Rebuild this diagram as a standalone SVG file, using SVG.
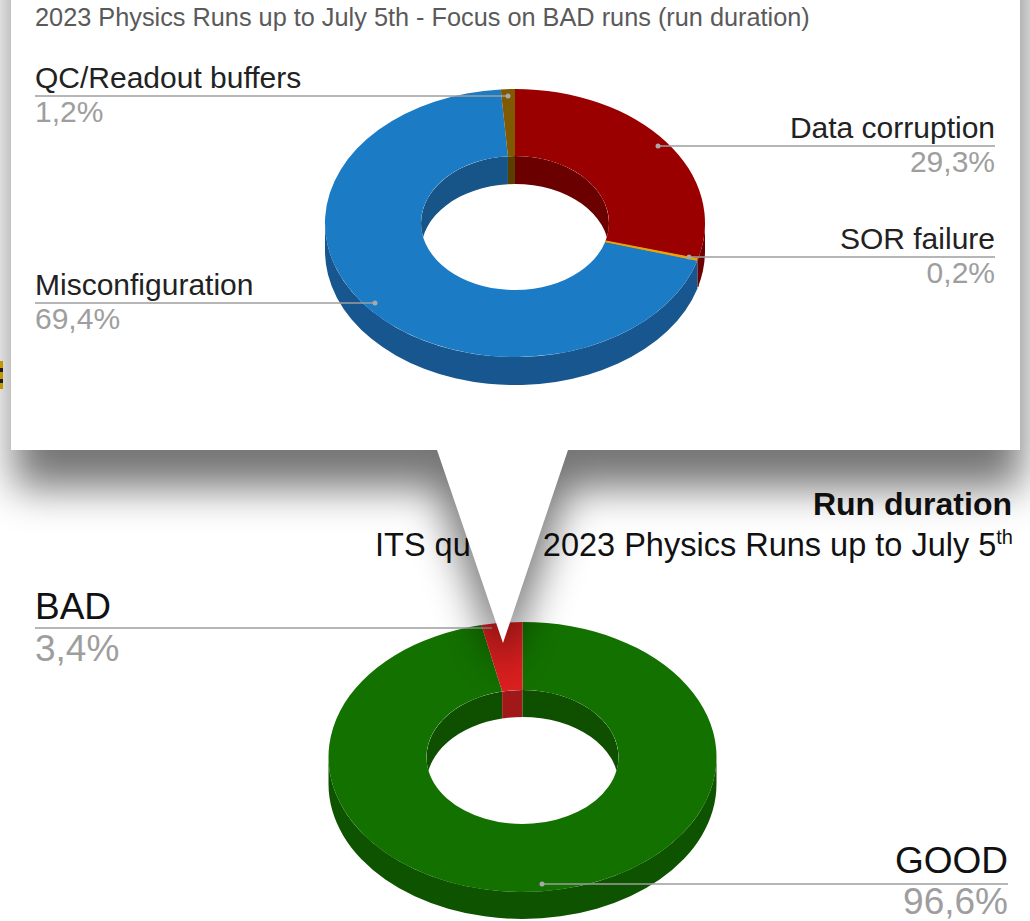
<svg xmlns="http://www.w3.org/2000/svg" width="1030" height="921" viewBox="0 0 1030 921">
<style>
text{font-family:"Liberation Sans",Arial,sans-serif}
.lbl{font-size:30px;fill:#222}
.pct{font-size:30px;fill:#9e9e9e}
.lblb{font-size:37px;fill:#111}
.pctb{font-size:37px;fill:#9e9e9e}
.lead{stroke:#9e9e9e;stroke-width:1.5;fill:none}
.dot{fill:#a8a8a8}
</style>
<defs>
<filter id="blur" filterUnits="userSpaceOnUse" x="-150" y="-150" width="1330" height="1250"><feGaussianBlur stdDeviation="20"/></filter>
<clipPath id="holeTop"><ellipse cx="515" cy="223" rx="94" ry="67"/></clipPath>
<clipPath id="holeBot"><ellipse cx="522.5" cy="757" rx="96" ry="67"/></clipPath>
</defs>
<rect x="0" y="0" width="1030" height="921" fill="#fff"/>

<g id="edge-fragment">
<rect x="0" y="361" width="3" height="28" fill="#e2b100"/>
<rect x="0" y="368" width="3" height="4" fill="#222"/>
<rect x="0" y="379" width="3" height="4" fill="#222"/>
</g>

<g id="bottom-chart-title">
<text x="1012" y="515" text-anchor="end" style="font-size:32px;font-weight:bold;fill:#111">Run duration</text>
<text x="375" y="556" style="font-size:32.5px;fill:#111">ITS qua</text>
<text x="1013" y="556" text-anchor="end" style="font-size:32.5px;fill:#111">2023 Physics Runs up to July 5<tspan dy="-12" style="font-size:20px">th</tspan></text>
</g>
<g id="good-slice">
<path d="M716.5,757 A194,135 0 0 1 328.5,757 L328.5,784 A194,135 0 0 0 716.5,784 Z" fill="#0e5300"/>
<path d="M522.5,622 A194,135 0 1 1 481.37,625.07 L502.15,691.52 A96,67 0 1 0 522.5,690 Z" fill="#137100"/>
</g>
<g id="bad-slice">
<path d="M481.37,625.07 A194,135 0 0 1 522.5,622 L522.5,690 A96,67 0 0 0 502.15,691.52 Z" fill="#dc1f1f"/>
</g>
<g id="bottom-hole" clip-path="url(#holeBot)">
<path d="M426.5,757 A96,67 0 0 1 502.15,691.52 L502.15,718.52 A96,67 0 0 0 426.5,784 Z" fill="#0f4f00"/>
<path d="M502.15,691.52 A96,67 0 0 1 522.5,690 L522.5,717 A96,67 0 0 0 502.15,718.52 Z" fill="#a11818"/>
<path d="M522.5,690 A96,67 0 0 1 618.5,757 L618.5,784 A96,67 0 0 0 522.5,717 Z" fill="#0f4f00"/>
</g>
<g id="bottom-connectors">
<line class="lead" x1="35" y1="628" x2="492" y2="628"/>
<line class="lead" x1="542" y1="884" x2="1008" y2="884"/>
<circle class="dot" cx="542" cy="884" r="2.5"/>
</g>
<g id="label-bad">
<text class="lblb" x="35" y="619">BAD</text>
<text class="pctb" x="35" y="661">3,4%</text>
</g>
<g id="label-good">
<text class="lblb" x="1008" y="873" text-anchor="end">GOOD</text>
<text class="pctb" x="1008" y="914" text-anchor="end">96,6%</text>
</g>

<g id="callout-shadow">
<path d="M14,-80 L1022,-80 L1022,488 L568,488 L503,672 L437,488 L14,488 Z" fill="#000" fill-opacity="0.54" filter="url(#blur)"/>
</g>

<g id="callout-panel">
<path d="M11,-5 H1020 V450 H568 L503,643 L437,450 H11 Z" fill="#fff"/>
</g>

<g id="top-chart-title">
<text x="35" y="26" style="font-size:25.3px;fill:#5a5a5a">2023 Physics Runs up to July 5th - Focus on BAD runs (run duration)</text>
</g>

<g id="slice-data-corruption">
<path d="M705,223 A190,134 0 0 1 698.09,258.81 L698.09,286.81 A190,134 0 0 0 705,251 Z" fill="#6d0000"/>
<path d="M515,89 A190,134 0 0 1 698.09,258.81 L605.58,240.91 A94,67 0 0 0 515,156 Z" fill="#9a0000"/>
</g>
<g id="slice-misconfiguration">
<path d="M697.46,260.38 A190,134 0 0 1 325,223 L325,251 A190,134 0 0 0 697.46,288.38 Z" fill="#17568f"/>
<path d="M697.46,260.38 A190,134 0 1 1 500.75,89.38 L507.95,156.19 A94,67 0 1 0 605.27,241.69 Z" fill="#1b7bc4"/>
</g>
<g id="slice-qc-readout">
<path d="M500.75,89.38 A190,134 0 0 1 515,89 L515,156 A94,67 0 0 0 507.95,156.19 Z" fill="#7f5a00"/>
</g>
<g id="slice-sor-failure">
<path d="M698.09,258.81 A190,134 0 0 1 697.46,260.38 L605.27,241.69 A94,67 0 0 0 605.58,240.91 Z" fill="#f0a500" stroke="#e8a000" stroke-width="1"/>
<path d="M698.09,258.81 L698.09,286.81" stroke="#5a0000" stroke-width="1.2"/>
</g>
<g id="top-hole" clip-path="url(#holeTop)">
<path d="M421,223 A94,67 0 0 1 507.95,156.19 L507.95,184.19 A94,67 0 0 0 421,251 Z" fill="#175589"/>
<path d="M507.95,156.19 A94,67 0 0 1 515,156 L515,184 A94,67 0 0 0 507.95,184.19 Z" fill="#5a4000"/>
<path d="M515,156 A94,67 0 0 1 609,223 L609,251 A94,67 0 0 0 515,184 Z" fill="#6b0000"/>
</g>

<g id="top-connectors">
<line class="lead" x1="35" y1="96" x2="508" y2="96"/>
<circle class="dot" cx="508" cy="96" r="2.5"/>
<line class="lead" x1="658" y1="146" x2="995" y2="146"/>
<circle class="dot" cx="658" cy="146" r="2.5"/>
<line class="lead" x1="689" y1="257" x2="995" y2="257"/>
<circle class="dot" cx="689" cy="257" r="2.5"/>
<line class="lead" x1="35" y1="303" x2="375" y2="303"/>
<circle class="dot" cx="375" cy="303" r="2.5"/>
</g>

<g id="label-qc-readout">
<text class="lbl" x="35" y="88">QC/Readout buffers</text>
<text class="pct" x="35" y="122">1,2%</text>
</g>
<g id="label-data-corruption">
<text class="lbl" x="995" y="138" text-anchor="end">Data corruption</text>
<text class="pct" x="995" y="172" text-anchor="end">29,3%</text>
</g>
<g id="label-sor-failure">
<text class="lbl" x="995" y="249" text-anchor="end">SOR failure</text>
<text class="pct" x="995" y="283" text-anchor="end">0,2%</text>
</g>
<g id="label-misconfiguration">
<text class="lbl" x="35" y="295">Misconfiguration</text>
<text class="pct" x="35" y="329">69,4%</text>
</g>
</svg>
